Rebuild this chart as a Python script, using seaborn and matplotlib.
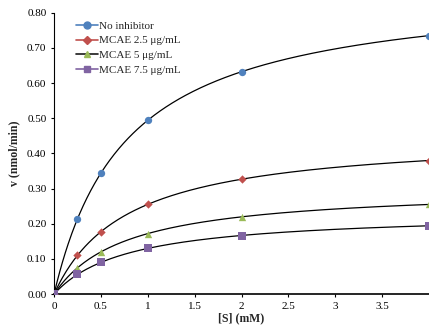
import numpy as np
import pandas as pd
import matplotlib
matplotlib.use("Agg")
import matplotlib.pyplot as plt
import seaborn as sns
from matplotlib.lines import Line2D

# ---- data ----
substrate = [0, 0.25, 0.5, 1, 2, 4]
v_no_inhibitor = [0.0, 0.213, 0.345, 0.495, 0.633, 0.735]
v_mcae_25 = [0.0, 0.110, 0.178, 0.255, 0.327, 0.380]
v_mcae_5 = [0.0, 0.075, 0.120, 0.172, 0.220, 0.255]
v_mcae_75 = [0.0, 0.057, 0.090, 0.130, 0.165, 0.195]
series_names = ["No inhibitor", "MCAE 2.5 \u03bcg/mL", "MCAE 5 \u03bcg/mL", "MCAE 7.5 \u03bcg/mL"]
x_ticks = [0, 0.5, 1, 1.5, 2, 2.5, 3, 3.5]
x_tick_labels = ["0", "0.5", "1", "1.5", "2", "2.5", "3", "3.5"]
y_ticks = [0.0, 0.1, 0.2, 0.3, 0.4, 0.5, 0.6, 0.7, 0.8]

colors = ["#4F81BD", "#C0504D", "#9BBB59", "#8064A2"]
legend_line_colors = ["#4F81BD", "#C0504D", "#1a1a1a", "#8064A2"]
markers = ["o", "D", "^", "s"]
msizes = [28, 18, 28, 30]

all_v = [v_no_inhibitor, v_mcae_25, v_mcae_5, v_mcae_75]
rows = []
for name, vals in zip(series_names, all_v):
    for s, v in zip(substrate, vals):
        rows.append({"S": s, "v": v, "series": name})
df = pd.DataFrame(rows)

# Michaelis-Menten trend lines fitted from the data (Hanes-Woolf)
grid = np.linspace(0, 4, 400)
curve_rows = []
for name, vals in zip(series_names, all_v):
    s = np.array(substrate[1:], float)
    v = np.array(vals[1:], float)
    slope, intercept = np.polyfit(s, s / v, 1)
    vmax = 1 / slope
    km = intercept * vmax
    for g in grid:
        curve_rows.append({"S": g, "v": vmax * g / (km + g), "series": name})
curves = pd.DataFrame(curve_rows)

sns.set_theme(style="white")
plt.rcParams["font.family"] = ["Liberation Serif", "DejaVu Serif"]

fig = plt.figure(figsize=(4.29, 3.29), dpi=100)
ax = fig.add_axes([0.126, 0.106, 0.874, 0.855])

sns.lineplot(data=curves, x="S", y="v", units="series", estimator=None,
             color="black", linewidth=0.9, ax=ax, legend=False)
for name, c, m, ms in zip(series_names, colors, markers, msizes):
    sub = df[df["series"] == name]
    sns.scatterplot(data=sub, x="S", y="v", color=c, marker=m, s=ms,
                    edgecolor=c, linewidth=0, ax=ax, legend=False, zorder=3)

ax.set_xlim(0, 4)
ax.set_ylim(0, 0.8)
ax.set_xticks(x_ticks)
ax.set_xticklabels(x_tick_labels)
ax.set_yticks(y_ticks)
ax.set_yticklabels([f"{t:.2f}" for t in y_ticks])
ax.tick_params(axis="both", labelsize=8, length=2.5, width=0.8,
               direction="out", colors="black", pad=3)
ax.tick_params(axis="both", bottom=True, left=True)
for side in ["top", "right"]:
    ax.spines[side].set_visible(False)
ax.spines["left"].set_color("black")
ax.spines["bottom"].set_color("black")
ax.spines["left"].set_linewidth(0.8)
ax.spines["bottom"].set_linewidth(1.2)

ax.set_xlabel("[S] (mM)", fontsize=8.5, fontweight="bold", labelpad=1)
ax.set_ylabel("v (nmol/min)", fontsize=8.5, fontweight="bold", labelpad=5)

handles = [Line2D([0], [0], color=lc, marker=m, markersize=5 if m != "D" else 4,
                  markerfacecolor=c, markeredgecolor=c, linewidth=1.2)
           for lc, c, m in zip(legend_line_colors, colors, markers)]
ax.legend(handles, series_names, loc="upper left", bbox_to_anchor=(0.04, 0.995),
          frameon=False, fontsize=8, handlelength=2.0, handletextpad=0.1,
          labelspacing=0.45, borderaxespad=0.2)

fig.savefig("out.png", dpi=100)
